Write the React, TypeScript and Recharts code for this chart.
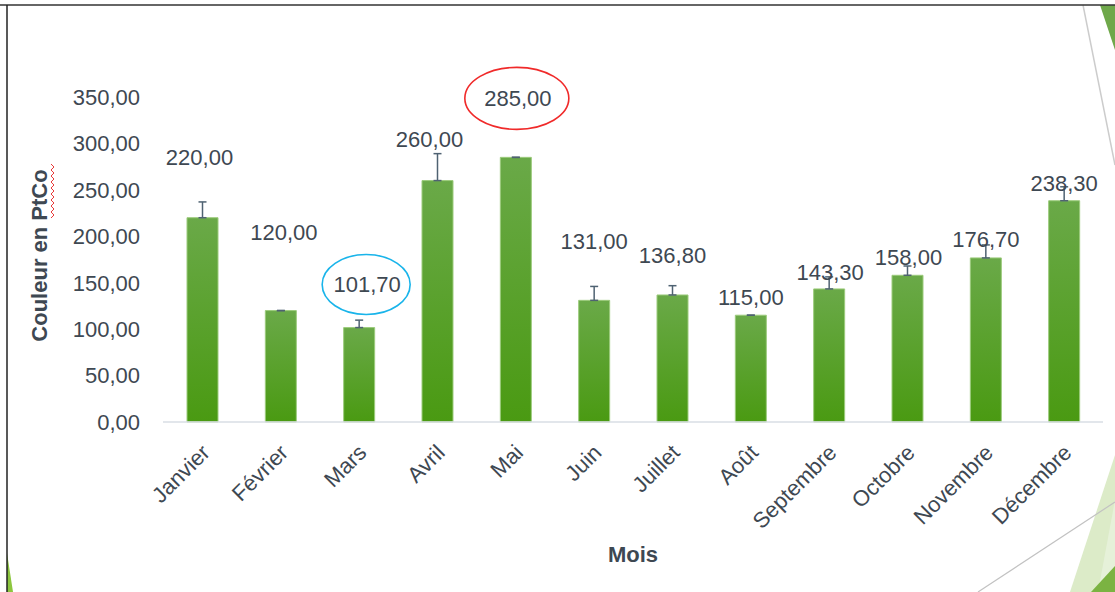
import React from 'react'
import { Bar, BarChart, ErrorBar, Label, LabelList, XAxis, YAxis } from 'recharts'

const months = ['Janvier', 'Février', 'Mars', 'Avril', 'Mai', 'Juin', 'Juillet', 'Août', 'Septembre', 'Octobre', 'Novembre', 'Décembre']
const colour = [220, 120, 101.7, 260, 285, 131, 136.8, 115, 143.3, 158, 176.7, 238.3]
const errorUp = [17, 0, 8, 29, 0, 15, 10, 0, 13, 10, 14, 15]
const yTicks = [0, 50, 100, 150, 200, 250, 300, 350]

// label placement (Excel labels were moved by hand)
const labelLift = [61, 78, 43, 41, 59, 59, 40, 18, 17, 18, 19, 18]
const labelShift = [-3, 3, 8, -8, 2, 0, 0, 0, 1, 1, 0, 0]
const rings: Record<number, { rx: number; ry: number; color: string }> = {
  2: { rx: 44, ry: 30, color: '#19b4ea' },
  4: { rx: 52, ry: 31, color: '#f02a2a' },
}

const data = months.map((m, i) => ({ month: m, value: colour[i], err: [0, errorUp[i]] }))

const textColor = '#3e4852'
const font = '"Liberation Sans", Arial, sans-serif'
const fmt = (v: number) => Number(v).toFixed(2).replace('.', ',')

const renderValueLabel = (props: any) => {
  const { x, y, width, value, index } = props
  const cx = Number(x) + Number(width) / 2 + labelShift[index]
  const cy = Number(y) - labelLift[index]
  const ring = rings[index]
  return (
    <g key={`lbl-${index}`}>
      {ring && <ellipse cx={cx - 1} cy={cy} rx={ring.rx} ry={ring.ry} fill="none" stroke={ring.color} strokeWidth={1.6} />}
      <text x={cx} y={cy} dy="0.36em" textAnchor="middle" fill={textColor} fontSize={22} fontFamily={font}>
        {fmt(value)}
      </text>
    </g>
  )
}

const MonthTick = (props: any) => {
  const { x, y, payload } = props
  return (
    <g transform={`translate(${x + 9},${y + 32})`}>
      <text textAnchor="end" transform="rotate(-45)" fill={textColor} fontSize={22} fontFamily={font}>
        {payload.value}
      </text>
    </g>
  )
}

const YTitle = (props: any) => {
  const vb = props.viewBox
  const cx = vb.x + 39
  const cy = vb.y + vb.height / 2 - 4
  return (
    <text
      x={cx}
      y={cy}
      dy="0.36em"
      textAnchor="middle"
      transform={`rotate(-90, ${cx}, ${cy})`}
      fill={textColor}
      fontSize={22}
      fontWeight="bold"
      fontFamily={font}
    >
      Couleur en PtCo
    </text>
  )
}

function Backdrop() {
  return (
    <svg width={1115} height={592} style={{ position: 'absolute', left: 0, top: 0, pointerEvents: 'none' }}>
      <polygon points="1100,5 1115,5 1115,50" fill="#6fa84a" />
      <line x1={1083} y1={5} x2={1115} y2={165} stroke="#cccccc" strokeWidth={1.5} />
      <polygon points="1115,455 1115,592 1070,592" fill="#dcebc8" />
      <polygon points="1115,500 1115,592 1098,592" fill="#e6f1d9" />
      <polygon points="1115,566 1115,592 1091,592" fill="#7bb342" />
      <line x1={978} y1={592} x2={1115} y2={502} stroke="#c2c2c2" strokeWidth={1.2} />
      <polygon points="7,553 7,592 13,592" fill="#8cc63e" />
      <line x1={0} y1={5} x2={1115} y2={5} stroke="#333" strokeWidth={1.5} />
      <line x1={7} y1={5} x2={7} y2={592} stroke="#222" strokeWidth={1.5} />
      <polyline
        points="51,218 54,215 51,212 54,209 51,206 54,203 51,200 54,197 51,194 54,191 51,188 54,185 51,182 54,179 51,176 54,173 51,170 54,167 51,164"
        fill="none"
        stroke="#e83a3a"
        strokeWidth={1}
      />
    </svg>
  )
}

export default function App() {
  return (
    <div style={{ position: 'absolute', left: 0, top: 0, width: 1115, height: 592, background: '#fff', overflow: 'hidden' }}>
      <BarChart width={1115} height={592} data={data} margin={{ top: 97, right: 12, bottom: 0, left: 0 }}>
        <defs>
          <linearGradient id="barGreen" x1="0" y1="0" x2="0" y2="1">
            <stop offset="0%" stopColor="#6aa948" />
            <stop offset="100%" stopColor="#4a9a12" />
          </linearGradient>
        </defs>
        <XAxis
          dataKey="month"
          height={170}
          interval={0}
          tickSize={0}
          tickMargin={0}
          tickLine={false}
          axisLine={{ stroke: '#d9dee4', strokeWidth: 1.5 }}
          tick={<MonthTick />}
        >
          <Label value="Mois" position="insideBottom" offset={30} fill={textColor} fontSize={22} fontWeight="bold" fontFamily={font} />
        </XAxis>
        <YAxis
          width={163}
          domain={[0, 350]}
          ticks={yTicks}
          tickFormatter={fmt}
          axisLine={false}
          tickLine={false}
          tickSize={0}
          tickMargin={23}
          tick={{ fill: textColor, fontSize: 22, fontFamily: font }}
        >
          <Label content={<YTitle />} />
        </YAxis>
        <Bar dataKey="value" barSize={31} fill="url(#barGreen)" stroke="#9ccb7c" strokeWidth={1} isAnimationActive={false}>
          <ErrorBar dataKey="err" direction="y" width={4} stroke="#4f6272" strokeWidth={1.5} />
          <LabelList dataKey="value" content={renderValueLabel} />
        </Bar>
      </BarChart>
      <Backdrop />
    </div>
  )
}
